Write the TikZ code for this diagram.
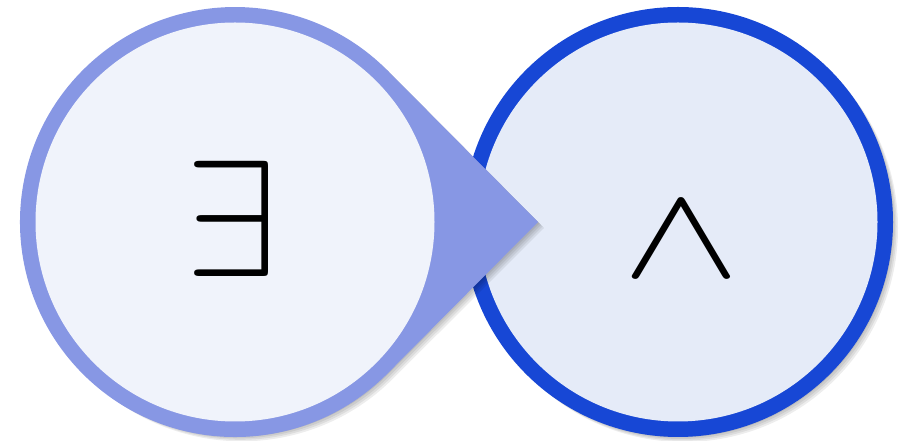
\documentclass[tikz,border=0pt]{standalone}
\usepackage{fontspec}
\DeclareFontFamily{OMS}{cmsy}{\skewchar\font48 }
\DeclareFontShape{OMS}{cmsy}{m}{n}{<->cmsy10}{}
\definecolor{lborder}{HTML}{8797E4}
\definecolor{lfill}{HTML}{F0F3FB}
\definecolor{rborder}{HTML}{1747D5}
\definecolor{rfill}{HTML}{E5EBF8}
\tikzset{
  sym/.style={inner sep=0pt, anchor=base},
  shade1/.style={fill=black, opacity=0.07},
}
\begin{document}
\begin{tikzpicture}[x=1pt,y=1pt]
\useasboundingbox (0,0) rectangle (910,441);
% right circle
\foreach \d in {1.5,3,4.5,6}{
  \fill[shade1] (678+\d,219-\d) circle (214);
}
\fill[rborder] (678,219) circle (215);
\fill[rfill] (678,219) circle (199.5);
% left pointer shape
\coordinate (tip) at (538,219);
\foreach \d in {1.5,3,4.5,6}{
  \fill[shade1] ([shift={(\d,-\d)}]tip) -- ([shift={(\d,-\d)}]387,371) arc[start angle=45, end angle=315, radius=214] -- cycle;
}
\fill[lborder] (tip) -- (387,371) arc[start angle=45, end angle=315, radius=215] -- cycle;
\fill[lfill] (235,219) circle (199.5);
\node[sym, font=\fontsize{166}{170}\selectfont] (e) at (232,164) {$\exists$};
\node[sym, font=\fontsize{132}{132}\selectfont, xscale=1.34, transform shape] (w) at (681,164) {$\wedge$};
\end{tikzpicture}
\end{document}
